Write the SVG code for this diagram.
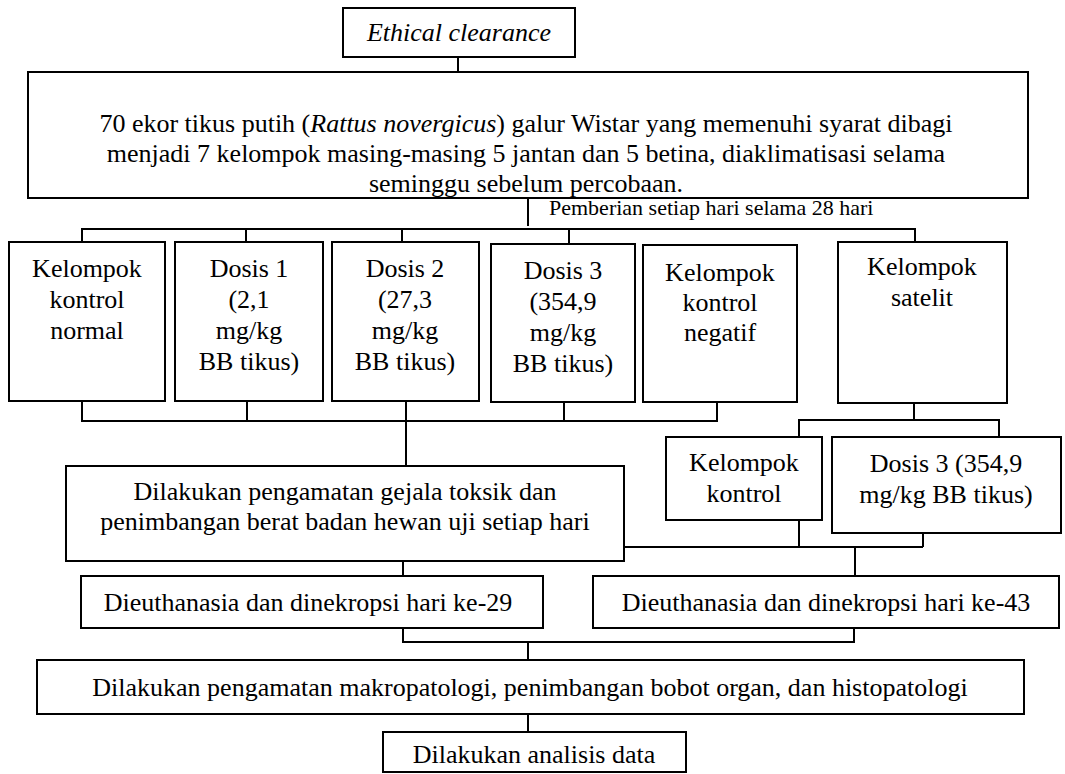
<svg xmlns="http://www.w3.org/2000/svg" width="1065" height="774" viewBox="0 0 1065 774" font-family="Liberation Serif, Times New Roman, serif">
<style>
.box{fill:#fff;stroke:#000;stroke-width:2}
.t{font-family:"Liberation Serif","Times New Roman",serif;font-size:26px;fill:#000;text-anchor:middle}
.s{font-family:"Liberation Serif","Times New Roman",serif;font-size:22px;fill:#000}
.c{fill:none;stroke:#000;stroke-width:2}
</style>
<rect width="1065" height="774" fill="#fff"/>
<g id="connectors" class="c">
<path d="M458 57V72"/>
<path d="M528 198V226"/>
<path d="M82 242V229H915V242"/>
<path d="M246 229V242M402 229V242M569 229V244"/>
<path d="M82 401V421H717V402"/>
<path d="M247 401V421M406 401V466M564 402V421"/>
<path d="M914 403V420"/>
<path d="M799 437V420H999V437"/>
<path d="M799 520V547M923 533V547M624 547H923M855 547V576"/>
<path d="M403 561V576"/>
<path d="M403 628V642H854V628"/>
<path d="M528 642V660"/>
<path d="M528 714V732"/>
</g>
<g id="ethical"><rect class="box" x="343" y="8" width="232" height="49"/><text class="t" x="459" y="41" font-style="italic">Ethical clearance</text></g>
<g id="tikus"><rect class="box" x="28" y="72" width="1000" height="126"/>
<text class="t" x="526" y="132">70 ekor tikus putih (<tspan font-style="italic">Rattus novergicus</tspan>) galur Wistar yang memenuhi syarat dibagi</text>
<text class="t" x="526" y="162">menjadi 7 kelompok masing-masing 5 jantan dan 5 betina, diaklimatisasi selama</text>
<text class="t" x="526" y="192">seminggu sebelum percobaan.</text></g>
<g id="label"><text class="s" x="549" y="215">Pemberian setiap hari selama 28 hari</text></g>
<g id="normal"><rect class="box" x="9" y="242" width="156" height="159"/><text class="t" x="87" y="277">Kelompok</text><text class="t" x="87" y="308">kontrol</text><text class="t" x="87" y="339">normal</text></g>
<g id="dosis1"><rect class="box" x="175" y="242" width="148" height="159"/><text class="t" x="249" y="277">Dosis 1</text><text class="t" x="249" y="308">(2,1</text><text class="t" x="249" y="339">mg/kg</text><text class="t" x="249" y="370">BB tikus)</text></g>
<g id="dosis2"><rect class="box" x="332" y="242" width="147" height="159"/><text class="t" x="405" y="277">Dosis 2</text><text class="t" x="405" y="308">(27,3</text><text class="t" x="405" y="339">mg/kg</text><text class="t" x="405" y="370">BB tikus)</text></g>
<g id="dosis3"><rect class="box" x="491" y="244" width="144" height="158"/><text class="t" x="563" y="279">Dosis 3</text><text class="t" x="563" y="310">(354,9</text><text class="t" x="563" y="341">mg/kg</text><text class="t" x="563" y="372">BB tikus)</text></g>
<g id="negatif"><rect class="box" x="643" y="245" width="154" height="157"/><text class="t" x="720" y="281">Kelompok</text><text class="t" x="720" y="311">kontrol</text><text class="t" x="720" y="341">negatif</text></g>
<g id="satelit"><rect class="box" x="838" y="242" width="169" height="161"/><text class="t" x="922" y="275">Kelompok</text><text class="t" x="922" y="306">satelit</text></g>
<g id="pengamatan"><rect class="box" x="66" y="466" width="558" height="95"/><text class="t" x="345" y="500">Dilakukan pengamatan gejala toksik dan</text><text class="t" x="345" y="530">penimbangan berat badan hewan uji setiap hari</text></g>
<g id="kontrol"><rect class="box" x="666" y="437" width="156" height="83"/><text class="t" x="744" y="471">Kelompok</text><text class="t" x="744" y="502">kontrol</text></g>
<g id="dosis3s"><rect class="box" x="832" y="437" width="229" height="96"/><text class="t" x="946" y="472">Dosis 3 (354,9</text><text class="t" x="946" y="503">mg/kg BB tikus)</text></g>
<g id="hari29"><rect class="box" x="81" y="576" width="462" height="52"/><text class="t" x="308" y="611">Dieuthanasia dan dinekropsi hari ke-29</text></g>
<g id="hari43"><rect class="box" x="593" y="576" width="466" height="52"/><text class="t" x="826" y="611">Dieuthanasia dan dinekropsi hari ke-43</text></g>
<g id="makro"><rect class="box" x="37" y="660" width="987" height="54"/><text class="t" x="530" y="696">Dilakukan pengamatan makropatologi, penimbangan bobot organ, dan histopatologi</text></g>
<g id="analisis"><rect class="box" x="383" y="732" width="303" height="40"/><text class="t" x="534" y="763">Dilakukan analisis data</text></g>
</svg>
